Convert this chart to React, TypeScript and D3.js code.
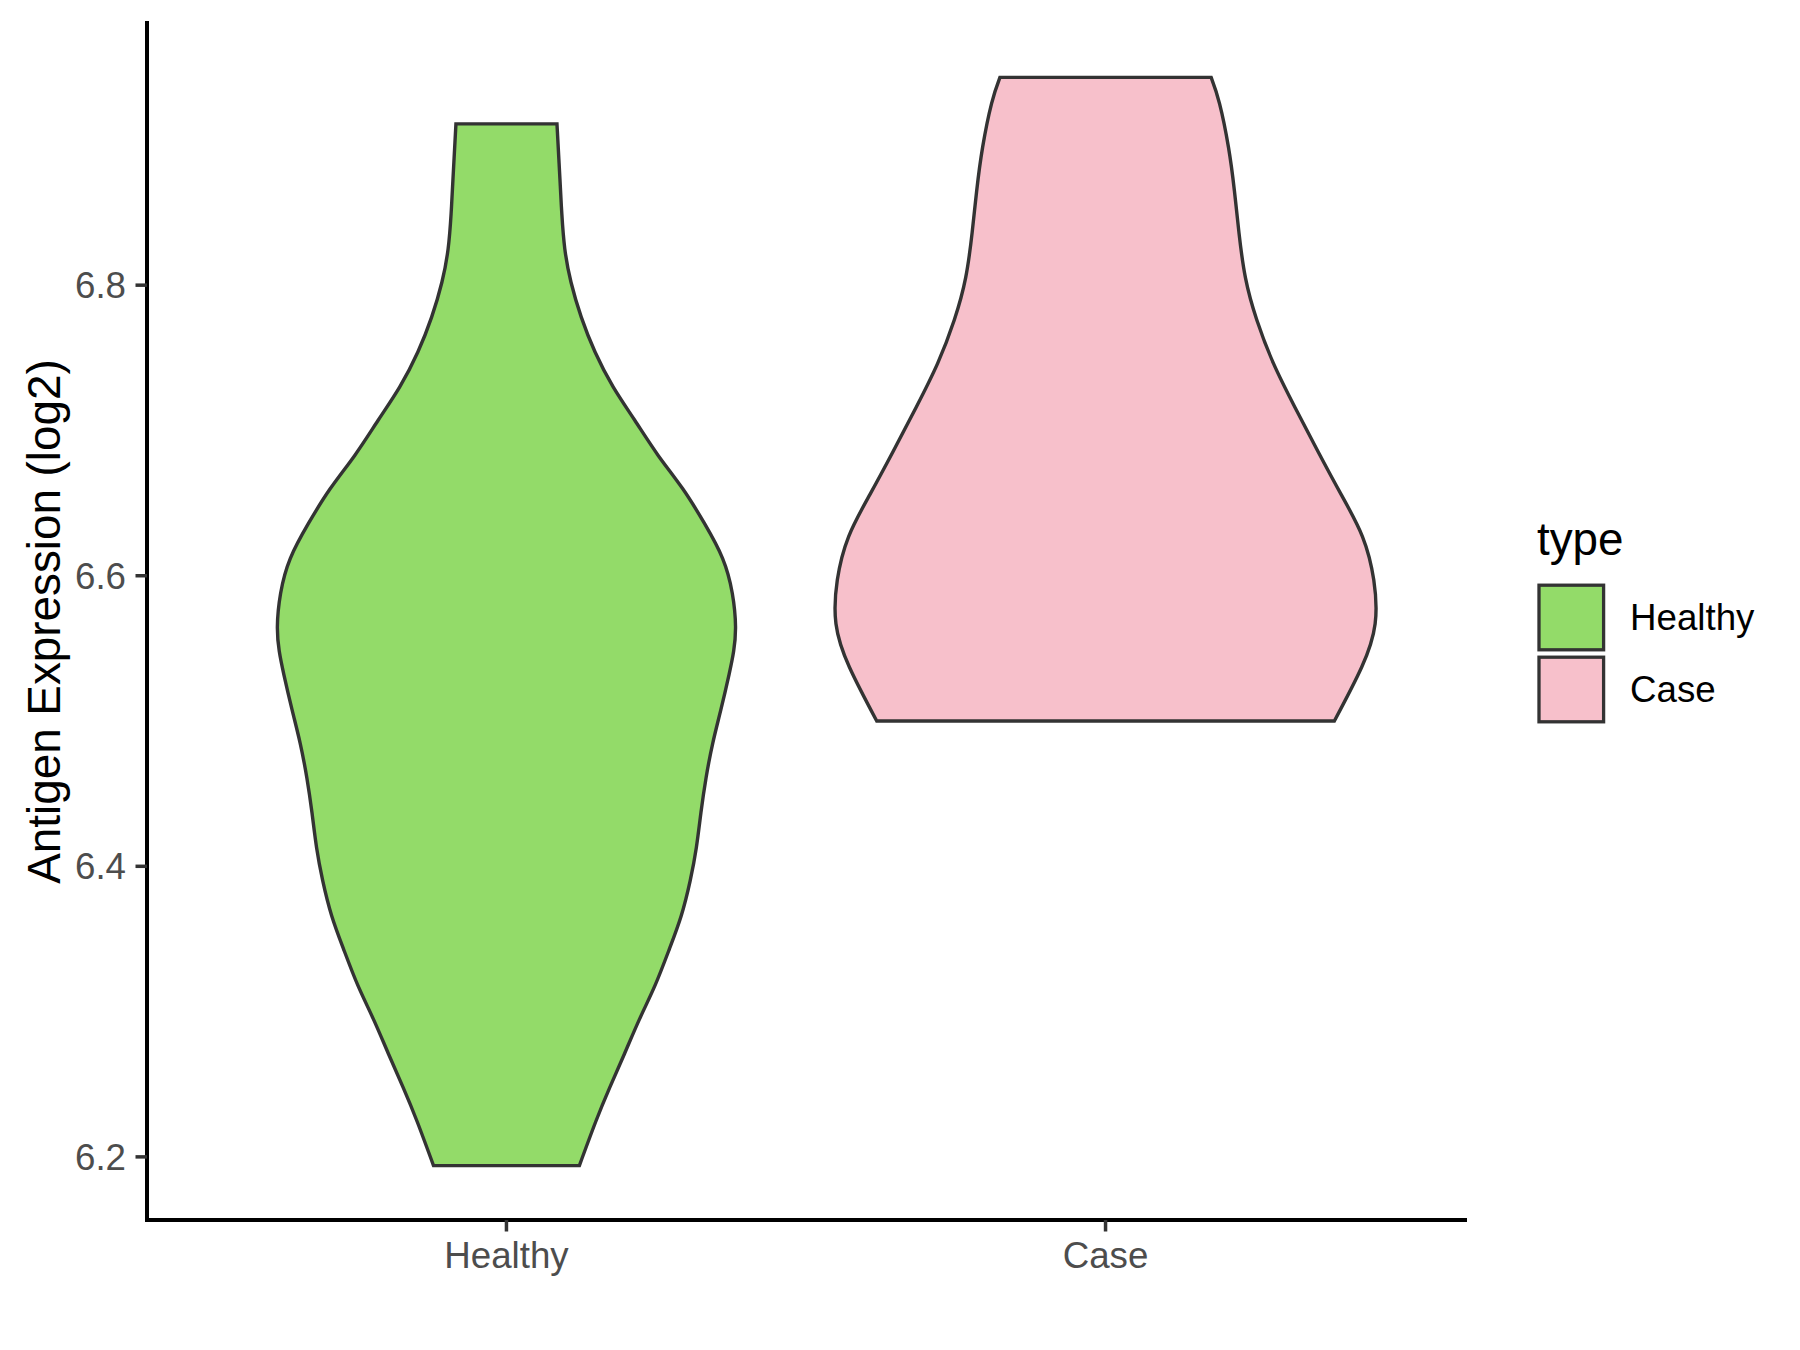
import React from "react";
import * as d3 from "d3";

const categories = ["Healthy", "Case"];
const fillColors = ["#93DB69", "#F7C0CB"];
const yTicks = [6.2, 6.4, 6.6, 6.8];
const yTitle = "Antigen Expression (log2)";
const legendTitle = "type";

// Violin outlines: expression value (log2) and relative density (case max = 1)
const healthyValues = [6.194, 6.224, 6.248, 6.271, 6.295, 6.318, 6.343, 6.366, 6.39, 6.413, 6.437, 6.461, 6.485, 6.508, 6.532, 6.548, 6.565, 6.588, 6.612, 6.636, 6.66, 6.683, 6.707, 6.73, 6.754, 6.778, 6.802, 6.825, 6.849, 6.873, 6.911];
const healthyDensity = [0.27, 0.33, 0.383, 0.437, 0.493, 0.55, 0.603, 0.647, 0.68, 0.703, 0.72, 0.739, 0.764, 0.794, 0.824, 0.841, 0.848, 0.836, 0.8, 0.733, 0.652, 0.561, 0.475, 0.395, 0.328, 0.277, 0.239, 0.216, 0.205, 0.198, 0.187];
const caseValues = [6.5, 6.537, 6.567, 6.597, 6.627, 6.656, 6.686, 6.716, 6.746, 6.776, 6.805, 6.836, 6.865, 6.895, 6.925, 6.943];
const caseDensity = [0.847, 0.948, 0.998, 0.993, 0.951, 0.872, 0.785, 0.701, 0.622, 0.56, 0.518, 0.494, 0.477, 0.455, 0.422, 0.391];

const W = 1800;
const H = 1350;
const panel = { left: 147, right: 1465, top: 23, bottom: 1220 };
const FONT = "'Liberation Sans', Arial, Helvetica, sans-serif";

export default function App() {
  const series = [
    { name: categories[0], values: healthyValues, dens: healthyDensity, fill: fillColors[0] },
    { name: categories[1], values: caseValues, dens: caseDensity, fill: fillColors[1] },
  ];
  const allVals = [...healthyValues, ...caseValues];
  const lo = d3.min(allVals) as number;
  const hi = d3.max(allVals) as number;
  const pad = (hi - lo) * 0.05;
  const y = d3.scaleLinear().domain([lo - pad, hi + pad]).range([panel.bottom, panel.top]);
  const x = d3.scalePoint<string>().domain(categories).range([panel.left, panel.right]).padding(0.6);
  const step = x.step();
  const maxD = d3.max([...healthyDensity, ...caseDensity]) as number;
  const wScale = d3.scaleLinear().domain([0, maxD]).range([0, 0.45 * step]);

  const tickLen = 11.5;
  const axisFont = 36.7;
  const titleFont = 45.8;

  return (
    <div>
      <style>{"body{margin:0;}"}</style>
      <svg width={W} height={H} style={{ display: "block", background: "#fff" }} fontFamily={FONT}>
        <rect x={0} y={0} width={W} height={H} fill="#ffffff" />
        {series.map((s) => {
          const cx = x(s.name) as number;
          const pts = s.values.map((v, i) => ({ v, d: s.dens[i] }));
          const area = d3
            .area<{ v: number; d: number }>()
            .y((p) => y(p.v))
            .x0((p) => cx - wScale(p.d))
            .x1((p) => cx + wScale(p.d))
            .curve(d3.curveNatural);
          return (
            <path
              key={s.name}
              d={area(pts) || ""}
              fill={s.fill}
              stroke="#333333"
              strokeWidth={3.4}
              strokeLinejoin="miter"
            />
          );
        })}
        {/* axes */}
        <line x1={panel.left} x2={panel.left} y1={panel.top} y2={panel.bottom} stroke="#000" strokeWidth={4} strokeLinecap="square" />
        <line x1={panel.left} x2={panel.right} y1={panel.bottom} y2={panel.bottom} stroke="#000" strokeWidth={4} strokeLinecap="square" />
        {yTicks.map((t) => (
          <g key={"y" + t}>
            <line x1={panel.left - tickLen} x2={panel.left} y1={y(t)} y2={y(t)} stroke="#333333" strokeWidth={3.5} />
            <text x={panel.left - tickLen - 9.5} y={y(t) + 13.1} textAnchor="end" fontSize={axisFont} fill="#4D4D4D">
              {t.toFixed(1)}
            </text>
          </g>
        ))}
        {categories.map((c) => (
          <g key={"x" + c}>
            <line x1={x(c) as number} x2={x(c) as number} y1={panel.bottom} y2={panel.bottom + tickLen} stroke="#333333" strokeWidth={3.5} />
            <text x={x(c) as number} y={1267.5} textAnchor="middle" fontSize={axisFont} fill="#4D4D4D">
              {c}
            </text>
          </g>
        ))}
        <text
          transform={`translate(60, ${(panel.top + panel.bottom) / 2}) rotate(-90)`}
          textAnchor="middle"
          fontSize={titleFont}
          fill="#000"
        >
          {yTitle}
        </text>
        {/* legend */}
        <text x={1537} y={555} fontSize={titleFont} fill="#000">
          {legendTitle}
        </text>
        {series.map((s, i) => {
          const cy = 617.5 + i * 72;
          return (
            <g key={"leg" + s.name}>
              <rect x={1571.3 - 32.3} y={cy - 32.3} width={64.6} height={64.6} fill={s.fill} stroke="#333333" strokeWidth={3.3} />
              <text x={1630} y={cy + 12.8} fontSize={axisFont} fill="#000">
                {s.name}
              </text>
            </g>
          );
        })}
      </svg>
    </div>
  );
}
